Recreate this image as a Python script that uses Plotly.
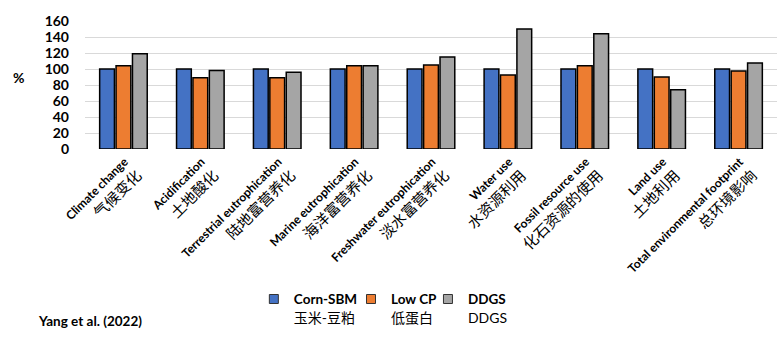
import plotly.graph_objects as go

categories_en = ["Climate change", "Acidification", "Terrestrial eutrophication",
                 "Marine eutrophication", "Freshwater eutrophication", "Water use",
                 "Fossil resource use", "Land use", "Total environmental footprint"]
categories_zh = ["气候变化", "土地酸化", "陆地富营养化", "海洋富营养化", "淡水富营养化",
                 "水资源利用", "化石资源的使用", "土地利用", "总环境影响"]

corn_sbm = [100, 100, 100, 100, 100, 100, 100, 100, 100]
low_cp = [104, 89, 89, 104, 105, 92.5, 104, 90, 97.5]
ddgs = [119, 98, 96, 104, 115, 150, 144, 74, 107.5]

series_names = [("Corn-SBM", "玉米-豆粕"), ("Low CP", "低蛋白"), ("DDGS", "DDGS")]
series_colors = ["#4472C4", "#ED7D31", "#A5A5A5"]
y_ticks = [0, 20, 40, 60, 80, 100, 120, 140, 160]

FONT = "Lato, 'Noto Sans CJK SC', sans-serif"

tick_text = [f"<span style='font-size:12px'><b>{en}</b></span><br>{zh}"
             for en, zh in zip(categories_en, categories_zh)]

# one legend box per series so each key sits at its own horizontal position
legend_ids = ["legend", "legend2", "legend3"]
legend_x = [0.2440, 0.3844, 0.4956]

fig = go.Figure()
for (en, zh), vals, col, lg in zip(series_names, [corn_sbm, low_cp, ddgs],
                                   series_colors, legend_ids):
    fig.add_trace(go.Bar(
        x=categories_en, y=vals, showlegend=False,
        marker=dict(color=col, line=dict(color="black", width=1.5)),
    ))
    # compact square legend key
    fig.add_trace(go.Scatter(
        x=[None], y=[None], mode="markers", legend=lg,
        marker=dict(symbol="square", size=9, color=col, line=dict(color="#333", width=1)),
        name=f"<span style='font-size:13.5px'><b>{en}</b></span><br>{zh}",
    ))

legend_style = dict(orientation="h", xanchor="left", y=-1.05, yanchor="top",
                    font=dict(size=14), valign="top", itemwidth=30,
                    bgcolor="rgba(0,0,0,0)")

fig.update_layout(
    width=784, height=341,
    margin=dict(l=85, r=7, t=21, b=192),
    paper_bgcolor="white", plot_bgcolor="white",
    font=dict(family=FONT, color="black"),
    barmode="group", bargap=0.36, bargroupgap=0.1,
    showlegend=True,
    xaxis=dict(tickmode="array", tickvals=categories_en, ticktext=tick_text,
               tickangle=-45, tickfont=dict(size=15), showgrid=False,
               showline=False, ticks=""),
    yaxis=dict(range=[0, 160], tickvals=y_ticks, ticktext=[f"<b>{v}</b>" for v in y_ticks],
               tickfont=dict(size=14), showgrid=True, gridcolor="#D9D9D9", gridwidth=1,
               zeroline=False, showline=False, ticks="", ticklabelstandoff=15),
    annotations=[
        dict(text="<b>%</b>", xref="paper", yref="paper", x=-0.096, y=0.5625,
             xanchor="center", showarrow=False, font=dict(size=14)),
        dict(text="<b>Yang et al. (2022)</b>", xref="paper", yref="paper",
             x=-0.0708, y=-1.422, xanchor="left", showarrow=False, font=dict(size=13.5)),
    ],
)
for lg, lx in zip(legend_ids, legend_x):
    fig.update_layout({lg: dict(legend_style, x=lx)})

fig.write_html("out.html")
